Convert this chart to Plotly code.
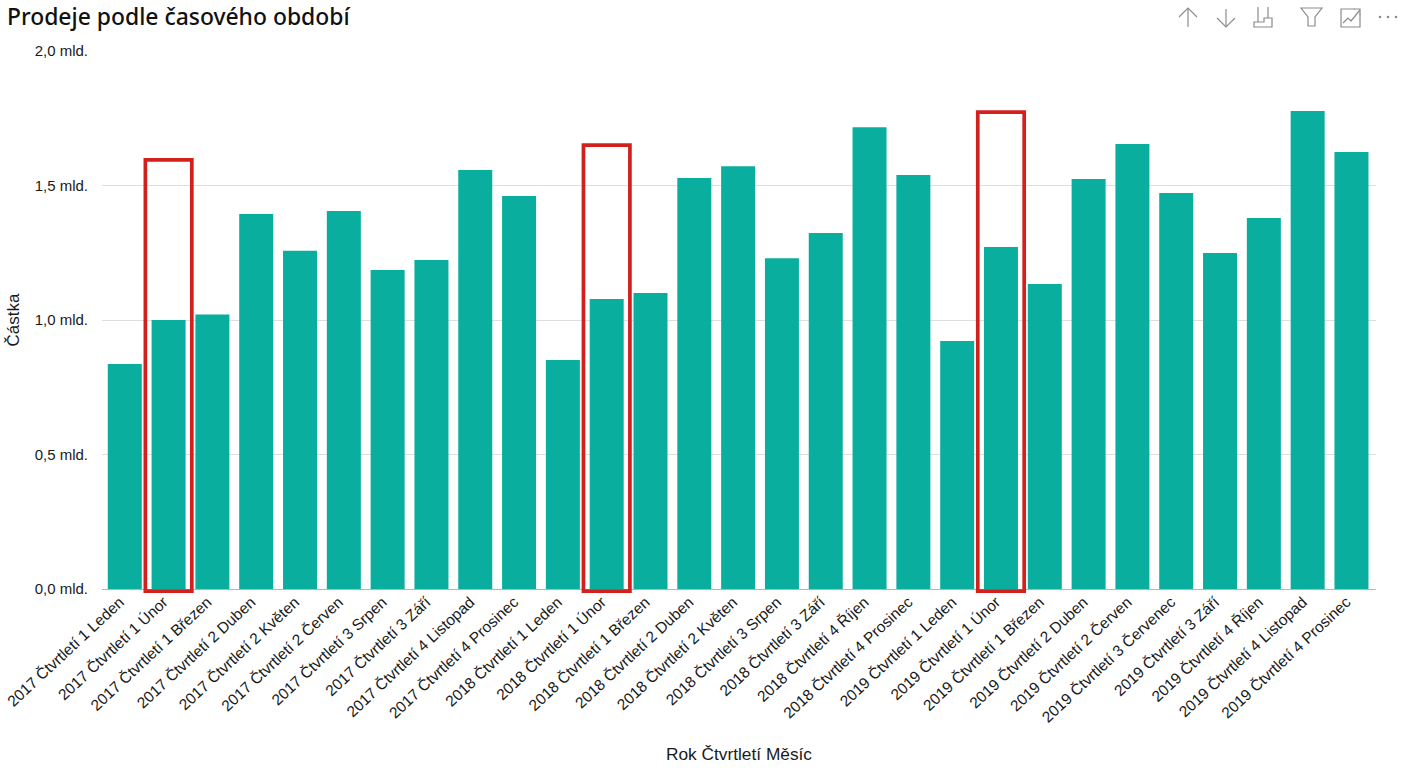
import plotly.graph_objects as go

WIDTH = 1408
HEIGHT = 768
PLOT_LEFT = 102
PLOT_RIGHT = 1376
PLOT_TOP = 51
PLOT_BOTTOM = 589
Y_MAX = 2.0

periods = [
    "2017 Čtvrtletí 1 Leden", "2017 Čtvrtletí 1 Únor", "2017 Čtvrtletí 1 Březen",
    "2017 Čtvrtletí 2 Duben", "2017 Čtvrtletí 2 Květen", "2017 Čtvrtletí 2 Červen",
    "2017 Čtvrtletí 3 Srpen", "2017 Čtvrtletí 3 Září", "2017 Čtvrtletí 4 Listopad",
    "2017 Čtvrtletí 4 Prosinec", "2018 Čtvrtletí 1 Leden", "2018 Čtvrtletí 1 Únor",
    "2018 Čtvrtletí 1 Březen", "2018 Čtvrtletí 2 Duben", "2018 Čtvrtletí 2 Květen",
    "2018 Čtvrtletí 3 Srpen", "2018 Čtvrtletí 3 Září", "2018 Čtvrtletí 4 Říjen",
    "2018 Čtvrtletí 4 Prosinec", "2019 Čtvrtletí 1 Leden", "2019 Čtvrtletí 1 Únor",
    "2019 Čtvrtletí 1 Březen", "2019 Čtvrtletí 2 Duben", "2019 Čtvrtletí 2 Červen",
    "2019 Čtvrtletí 3 Červenec", "2019 Čtvrtletí 3 Září", "2019 Čtvrtletí 4 Říjen",
    "2019 Čtvrtletí 4 Listopad", "2019 Čtvrtletí 4 Prosinec",
]
amounts = [
    0.836, 1.000, 1.020, 1.394, 1.257, 1.405, 1.186, 1.223, 1.558, 1.461,
    0.851, 1.078, 1.100, 1.528, 1.572, 1.230, 1.323, 1.717, 1.539,
    0.922, 1.271, 1.134, 1.524, 1.654, 1.472, 1.249, 1.379, 1.777, 1.625,
]
y_ticks = [0, 0.5, 1.0, 1.5, 2.0]
y_labels = ["0,0 mld.", "0,5 mld.", "1,0 mld.", "1,5 mld.", "2,0 mld."]

# red boxes around the February bars
box_indexes = [1, 11, 20]
box_tops = [1.595, 1.65, 1.773]

ICON_COLOR = "#8c8c8c"


def px_path(points, close=False):
    # toolbar icons are placed in page pixels, converted to paper coords
    parts = []
    for i, (px, py) in enumerate(points):
        x = (px - PLOT_LEFT) / (PLOT_RIGHT - PLOT_LEFT)
        y = (PLOT_BOTTOM - py) / (PLOT_BOTTOM - PLOT_TOP)
        parts.append(f"{'M' if i == 0 else 'L'} {x:.5f} {y:.5f}")
    return " ".join(parts) + (" Z" if close else "")


def icon(points, close=False):
    return dict(type="path", xref="paper", yref="paper", path=px_path(points, close),
                line=dict(color=ICON_COLOR, width=1.2), layer="above")


icons = [
    icon([(1188, 27), (1188, 8)]),
    icon([(1179, 17), (1188, 8), (1197, 17)]),
    icon([(1226, 9), (1226, 27)]),
    icon([(1217, 18), (1226, 27), (1235, 18)]),
    # drill down
    icon([(1258, 7), (1258, 22)]),
    icon([(1268, 7), (1268, 18)]),
    icon([(1254, 22), (1264, 22), (1264, 18), (1272, 18), (1272, 27), (1254, 27)], close=True),
    # filter
    icon([(1301, 8), (1322, 8), (1315, 17), (1315, 26), (1308, 26), (1308, 17)], close=True),
    # focus mode
    icon([(1355, 9), (1341, 9), (1341, 27), (1360, 27), (1360, 14)]),
    icon([(1343, 23), (1348, 18), (1351, 21), (1360, 10)]),
    icon([(1354, 9), (1360, 9), (1360, 15)]),
]
for dot_x in [1380, 1388, 1396]:
    icons.append(dict(type="circle", xref="paper", yref="paper",
                      x0=(dot_x - 1.3 - PLOT_LEFT) / (PLOT_RIGHT - PLOT_LEFT),
                      x1=(dot_x + 1.3 - PLOT_LEFT) / (PLOT_RIGHT - PLOT_LEFT),
                      y0=(PLOT_BOTTOM - 18.3) / (PLOT_BOTTOM - PLOT_TOP),
                      y1=(PLOT_BOTTOM - 15.7) / (PLOT_BOTTOM - PLOT_TOP),
                      fillcolor=ICON_COLOR, line=dict(width=0)))

# yref paper so the bottom edge is not clipped at the axis
boxes = [
    dict(type="rect", xref="x", yref="paper", x0=i - 0.53, x1=i + 0.53, y0=-0.004, y1=top / Y_MAX,
         line=dict(color="#d2201c", width=3.7), layer="above")
    for i, top in zip(box_indexes, box_tops)
]

fig = go.Figure(go.Bar(
    x=list(range(len(periods))),
    y=amounts,
    width=0.776,
    marker=dict(color="#0aae9f", line=dict(width=0)),
    hovertemplate="%{customdata}: %{y:.2f} mld.<extra></extra>",
    customdata=periods,
))

fig.update_layout(
    width=WIDTH,
    height=HEIGHT,
    margin=dict(l=PLOT_LEFT, r=WIDTH - PLOT_RIGHT, t=PLOT_TOP, b=HEIGHT - PLOT_BOTTOM),
    paper_bgcolor="white",
    plot_bgcolor="white",
    showlegend=False,
    font=dict(family="Liberation Sans", size=15, color="#1a1a1a"),
    title=dict(text="Prodeje podle časového období", x=7 / WIDTH, xanchor="left",
               y=1 - 17 / HEIGHT, yanchor="middle",
               font=dict(family="Noto Sans", size=22.9, color="#111111", weight=500)),
    shapes=boxes + icons,
)
fig.update_xaxes(
    range=[-0.52, 28.56],
    tickmode="array",
    tickvals=list(range(len(periods))),
    ticktext=periods,
    tickangle=-43,
    ticklabelshift=-5,
    ticklabelstandoff=-3,
    ticks="",
    showgrid=False,
    showline=True,
    linecolor="#b5b5b5",
    linewidth=1,
    zeroline=False,
    automargin=False,
    tickfont=dict(size=15.5, color="#1a1a1a"),
    title=dict(text="Rok Čtvrtletí Měsíc", font=dict(size=17.3, color="#1a1a1a"), standoff=23),
)
fig.update_yaxes(
    range=[0, Y_MAX],
    tickmode="array",
    tickvals=y_ticks,
    ticktext=y_labels,
    ticks="",
    ticklabelstandoff=13,
    showgrid=True,
    gridcolor="#dedede",
    gridwidth=1,
    zeroline=False,
    automargin=False,
    tickfont=dict(size=15, color="#1a1a1a"),
    title=dict(text="Částka", font=dict(size=17, color="#1a1a1a"), standoff=10),
)

fig.write_html("out.html", config=dict(displayModeBar=False),
               post_script="document.body.style.margin='0';document.body.style.overflow='hidden';")
